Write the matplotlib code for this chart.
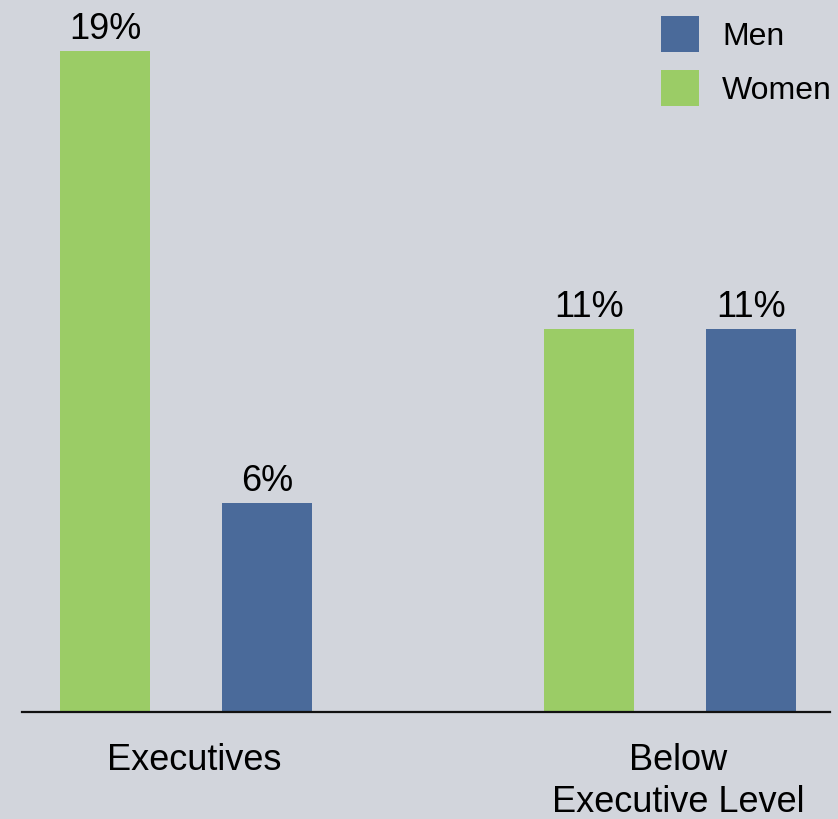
import matplotlib
matplotlib.use("Agg")
import matplotlib.pyplot as plt
import matplotlib.transforms as mtransforms
from matplotlib.patches import Rectangle
import numpy as np

categories = ["Executives", "Below\nExecutive Level"]
women = [19, 11]
men = [6, 11]
series_names = ["Men", "Women"]

BG = "#D2D5DC"
GREEN = "#9BCC66"
BLUE = "#4A6A9A"

plt.rcParams["font.family"] = ["Liberation Sans", "DejaVu Sans"]

W, H = 838, 819
fig = plt.figure(figsize=(W / 100, H / 100), dpi=100)
fig.patch.set_facecolor(BG)

ax = fig.add_axes([22 / W, (H - 712) / H, 808 / W, 712 / H])
ax.set_facecolor(BG)

x = np.arange(len(categories))
unit = 483.75
bw = 90 / unit
off = 81 / unit
ax.bar(x - off, women, width=bw, color=GREEN, zorder=2)
ax.bar(x + off, men, width=bw, color=BLUE, zorder=2)

left = -164 / unit
ax.set_xlim(left, left + 808 / unit)
ax.set_ylim(0, 712 / 34.8)

for xi, v in zip(x - off, women):
    ax.annotate(f"{v}%", (xi, v), xytext=(0, 4), textcoords="offset pixels",
                ha="center", va="bottom", fontsize=26)
for xi, v in zip(x + off, men):
    ax.annotate(f"{v}%", (xi, v), xytext=(0, 4), textcoords="offset pixels",
                ha="center", va="bottom", fontsize=26)

for s in ["top", "right", "left"]:
    ax.spines[s].set_visible(False)
ax.spines["bottom"].set_linewidth(1.6)
ax.spines["bottom"].set_color("#111111")
ax.set_yticks([])
ax.set_xticks(x)
ax.set_xticklabels(categories, fontsize=26, linespacing=1.26)
ax.tick_params(axis="x", length=0, pad=22)
shift = mtransforms.ScaledTranslation(8 / 100, 0, fig.dpi_scale_trans)
for lab in ax.get_xticklabels():
    lab.set_transform(lab.get_transform() + shift)

# legend
leg_colors = [BLUE, GREEN]
leg_tops = [16, 70]
for name, c, top in zip(series_names, leg_colors, leg_tops):
    fig.add_artist(Rectangle((661 / W, (H - top - 36) / H), 38 / W, 36 / H,
                             facecolor=c, edgecolor="none", transform=fig.transFigure))
    fig.text(722 / W, (H - top - 21) / H, name, fontsize=23, va="center", ha="left")

fig.savefig("out.png", dpi=100, facecolor=BG)
